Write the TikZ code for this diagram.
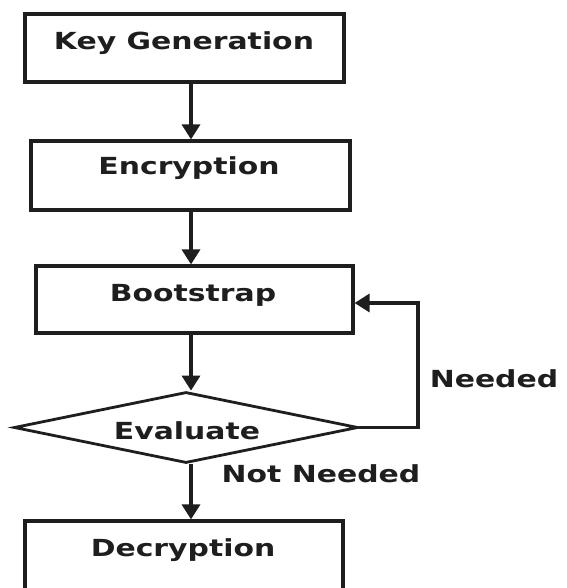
\documentclass[tikz,border=0pt]{standalone}
\usepackage{fontspec}
\newfontfamily\labfont[FakeStretch=1.27]{DejaVu Sans}
\usetikzlibrary{arrows.meta,shapes.geometric}
\definecolor{ink}{HTML}{1E1E1E}
\tikzset{
  box/.style={draw=ink, line width=3.2pt, rectangle, inner sep=0pt},
  lab/.style={text=ink, font=\labfont\bfseries\fontsize{23.5}{25}\selectfont, inner sep=0pt, anchor=base},
  arr/.style={draw=ink, line width=3.4pt, -{Triangle[length=15pt,width=18pt]}},
  dia/.style={draw=ink, line width=2.8pt, diamond, inner sep=0pt, minimum width=344pt, minimum height=71pt}
}
\begin{document}
\begin{tikzpicture}[x=1pt,y=-1pt]
\clip (0,0) rectangle (566,588);
\fill[white] (0,0) rectangle (566,588);
% boxes
\node[box, minimum width=319pt, minimum height=68pt] (kg) at (184.5,48) {};
\node[box, minimum width=319pt, minimum height=69pt] (enc) at (190.5,175.5) {};
\node[box, minimum width=317pt, minimum height=67pt] (boot) at (194.5,299.5) {};
\node[dia] (eval) at (186,427.5) {};
\node[box, minimum width=318pt, minimum height=80pt] (dec) at (184,561) {};
% texts
\node[lab] (tkg) at (184,50) {Key Generation};
\node[lab] (tenc) at (189,175) {Encryption};
\node[lab] (tboot) at (193,301) {Bootstrap};
\node[lab] (teval) at (187,439) {Evaluate};
\node[lab] (tdec) at (183,556) {Decryption};
\node[lab] (tneed) at (494,387) {Needed};
\node[lab] (tnot) at (321,482) {Not Needed};
% connectors
\coordinate (ax) at (191,0);
\draw[arr] (kg.south -| ax) -- (enc.north -| ax);
\draw[arr] (enc.south -| ax) -- (boot.north -| ax);
\draw[arr] (boot.south -| ax) -- (eval.north -| ax);
\draw[arr] (eval.south -| ax) -- (dec.north -| ax);
\coordinate (lp) at (418,303);
\draw[arr] (eval.east) -| (lp) -- (boot.east |- lp);
\end{tikzpicture}
\end{document}
